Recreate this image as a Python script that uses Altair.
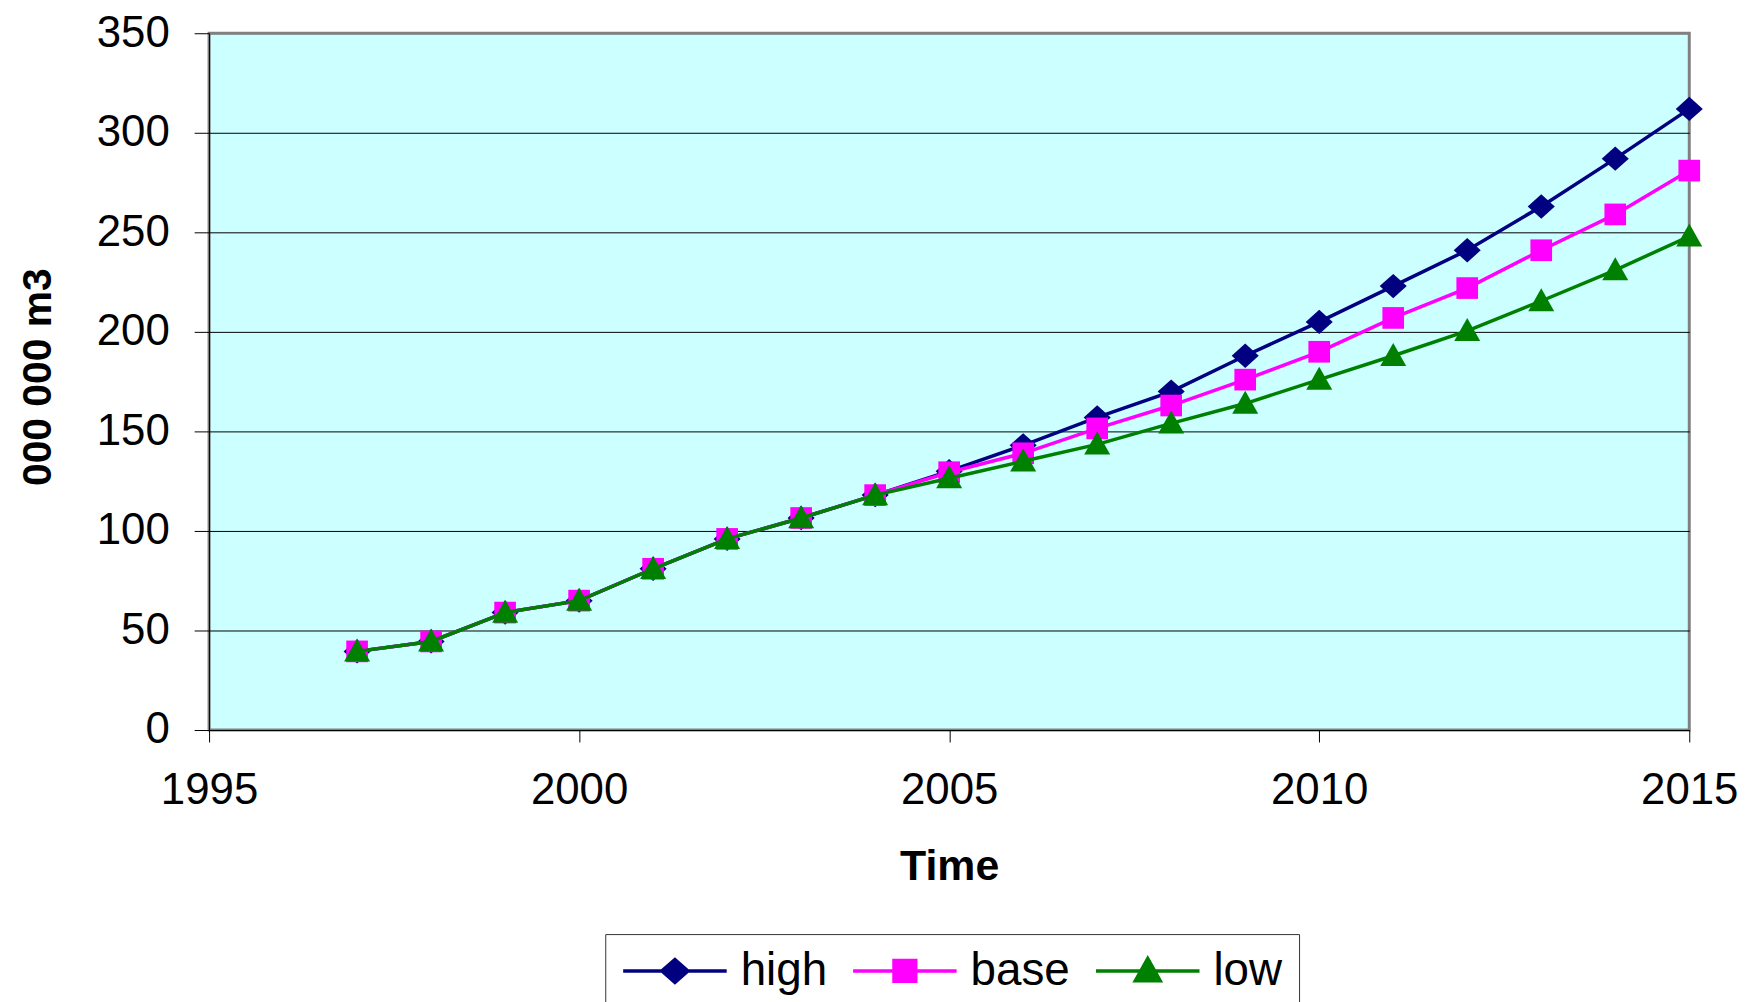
import altair as alt
import pandas as pd

# ---- data ----
years = list(range(1997, 2016))
high = [39.5, 44.5, 59, 65, 81, 96, 106.5, 118, 130, 143, 157, 170, 188, 205, 223, 241, 263, 287, 312]
base = [39.5, 44.5, 59, 65, 81, 96, 106.5, 118, 129.5, 139, 151.5, 163, 176, 190, 207, 222, 241, 259, 281]
low = [39.5, 44.5, 59, 65, 81, 96, 106.5, 118, 126.5, 135, 143.5, 154, 164, 176, 188, 200.5, 215.5, 231, 248]

series_names = ["high", "base", "low"]
series_colors = ["#000080", "#FF00FF", "#008000"]
x_ticks = [1995, 2000, 2005, 2010, 2015]
y_ticks = [0, 50, 100, 150, 200, 250, 300, 350]

rows = []
for name, vals in zip(series_names, [high, base, low]):
    for yr, v in zip(years, vals):
        rows.append({"year": yr, "value": v, "series": name})
df = pd.DataFrame(rows)

FONT = "Liberation Sans"

# marker shapes (diamond, square, triangle) in the unit box
marker_paths = [
    "M-1,0L0,-0.9L1,0L0,0.9Z",
    "M-0.8,-0.8H0.8V0.8H-0.8Z",
    "M0,-0.95L0.96,0.75L-0.96,0.75Z",
]
# legend symbols: a line segment with the marker in the middle
legend_paths = [
    "M-1,0H1M-0.25,0L0,-0.22L0.25,0L0,0.22Z",
    "M-1,0H1M-0.21,-0.2H0.21V0.2H-0.21Z",
    "M-1,0H1M0,-0.24L0.24,0.19L-0.24,0.19Z",
]

color_scale = alt.Scale(domain=series_names, range=series_colors)

x_enc = alt.X(
    "year:Q",
    scale=alt.Scale(domain=[1995, 2015], nice=False, zero=False),
    axis=alt.Axis(
        values=x_ticks, format="d", grid=False, title="Time",
        labelFont=FONT, labelFontSize=44, labelColor="black", labelPadding=27,
        tickSize=12, tickColor="black", tickWidth=1,
        domainColor="black", domainWidth=1,
        titleFont=FONT, titleFontSize=43, titleFontWeight="bold", titleColor="black",
        titlePadding=33, labelFlush=False,
    ),
)
y_enc = alt.Y(
    "value:Q",
    scale=alt.Scale(domain=[0, 350], nice=False),
    axis=alt.Axis(
        values=y_ticks, grid=True,
        gridColor={"condition": {"test": "datum.value === 350", "value": "#808080"}, "value": "black"},
        gridWidth=1,
        title="000 000 m3",
        labelFont=FONT, labelFontSize=44, labelColor="black", labelPadding=25,
        tickSize=15, tickColor="black", tickWidth=1,
        domainColor="black", domainWidth=1,
        titleFont=FONT, titleFontSize=41, titleFontWeight="bold", titleColor="black",
        titlePadding=37, titleY=345, labelFlush=False,
    ),
)

base_chart = alt.Chart(df)

series_layers = []
for name, col, path in zip(series_names, series_colors, marker_paths):
    sub = base_chart.transform_filter(alt.datum.series == name)
    series_layers.append(
        sub.mark_line(strokeWidth=3.5, color=col).encode(x=x_enc, y=y_enc, order=alt.Order("year:Q"))
    )
    series_layers.append(
        sub.mark_point(filled=True, opacity=1, size=740, shape=path, color=col).encode(x=x_enc, y=y_enc)
    )

leg = alt.Legend(
    orient="none", legendX=398, legendY=905, direction="horizontal", title=None,
    labelFont=FONT, labelFontSize=46, labelColor="black",
    symbolSize=10816, symbolStrokeWidth=3.5, symbolOpacity=1, clipHeight=42,
    labelOffset=12, columnPadding=24, padding=16,
    strokeColor="#333333", fillColor="white",
)

legend_layer = base_chart.transform_filter("false").mark_point(filled=True, opacity=1, strokeWidth=3.5).encode(
    x=x_enc, y=y_enc,
    shape=alt.Shape("series:N", scale=alt.Scale(domain=series_names, range=legend_paths), legend=leg),
    fill=alt.Fill("series:N", scale=color_scale, legend=leg),
    stroke=alt.Stroke("series:N", scale=color_scale, legend=leg),
)

chart = (
    alt.layer(*series_layers, legend_layer)
    .properties(
        width=1487, height=700,
        autosize=alt.AutoSizeParams(type="none"),
        padding={"left": 202, "top": 23, "right": 58, "bottom": 300},
        background="white",
    )
    .configure_view(fill="#CCFFFF", stroke="#808080", strokeWidth=3)
)

chart.save("out.html", embed_options={"renderer": "svg", "actions": False})
